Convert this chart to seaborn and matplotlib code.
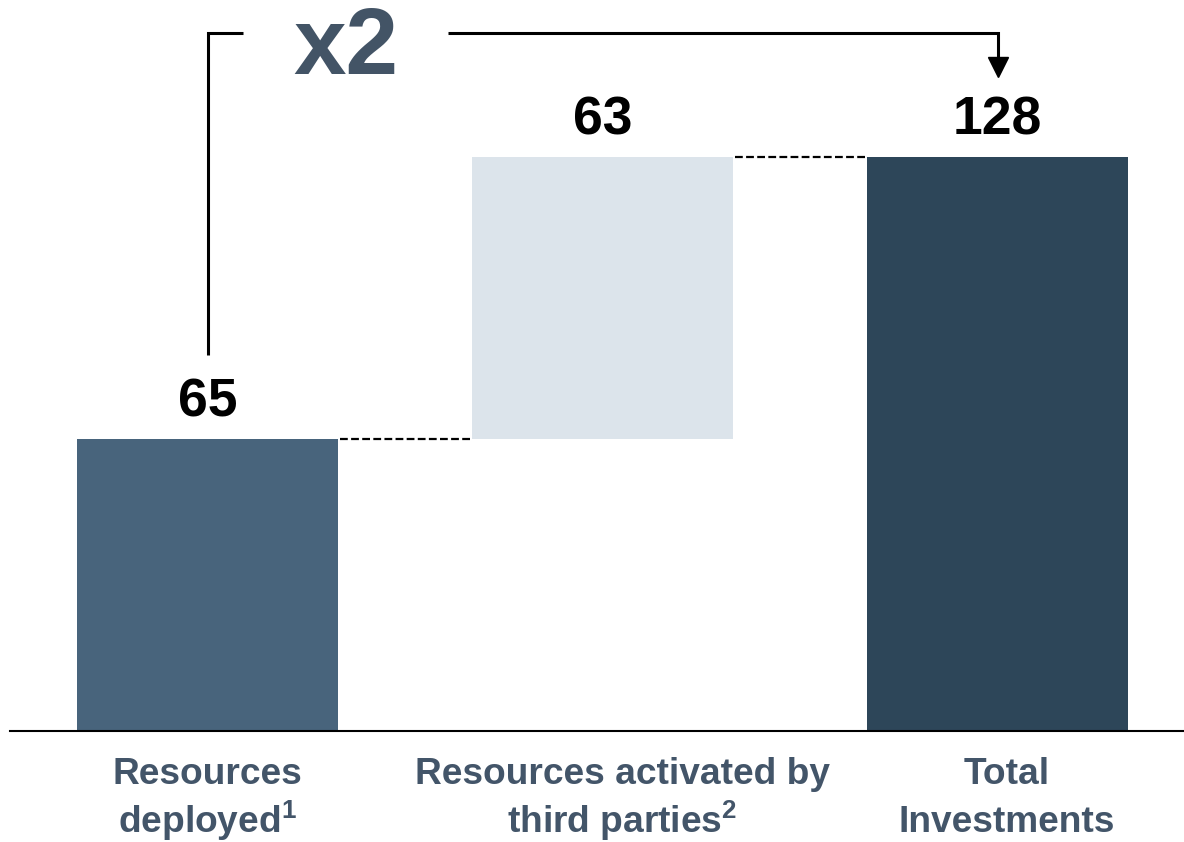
import matplotlib
matplotlib.use("Agg")
import matplotlib.pyplot as plt
import matplotlib.transforms as mtransforms
import seaborn as sns
import pandas as pd

# ---- data ----
categories = ["Resources\ndeployed$^{\\mathbf{1}}$",
              "Resources activated by\nthird parties$^{\\mathbf{2}}$",
              "Total\nInvestments"]
bar_tops = [65, 128, 128]
bar_bases = [0, 65, 0]
value_labels = ["65", "63", "128"]
bar_colors = ["#48647c", "#dce4eb", "#2d4659"]
multiplier_label = "x2"

sns.set_theme(style="white")
plt.rcParams['font.family'] = ['Liberation Sans', 'DejaVu Sans']
plt.rcParams['mathtext.fontset'] = 'custom'
plt.rcParams['mathtext.rm'] = 'Liberation Sans:bold'
plt.rcParams['mathtext.bf'] = 'Liberation Sans:bold'
plt.rcParams['mathtext.it'] = 'Liberation Sans:bold'

fig = plt.figure(figsize=(11.84, 8.42), dpi=100)
fig.patch.set_facecolor("white")
ax = fig.add_axes([10/1184, 111/842, 1174/1184, 731/842])

df = pd.DataFrame({"cat": categories, "top": bar_tops, "base": bar_bases})
sns.barplot(data=df, x="cat", y="top", hue="cat", palette=bar_colors,
            width=0.66, ax=ax, legend=False, saturation=1, linewidth=0)
sns.barplot(data=df, x="cat", y="base", color="white",
            width=0.68, ax=ax, saturation=1, linewidth=0)

ax.set_xlim(-0.5, 2.472)
ax.set_ylim(0, 163)

# connectors
half = 0.33
for i in range(len(bar_tops) - 1):
    y = bar_tops[i]
    ax.plot([i + half + 0.005, i + 1 - half - 0.005], [y, y], color="black",
            lw=1.6, dashes=(3.5, 1.5), zorder=3)

# value labels
for i, lab in enumerate(value_labels):
    ax.annotate(lab, xy=(i, bar_tops[i]), xytext=(0, 16.5), textcoords="offset points",
                ha="center", va="baseline", fontsize=38.5, fontweight="bold", color="black")

# bracket
ytop = 155.7
ax.plot([0.09, 0, 0], [ytop, ytop, 83.9], color="black", lw=2.2,
        solid_joinstyle="miter", solid_capstyle="butt", zorder=4)
ax.plot([0.609, 2, 2], [ytop, ytop, 149], color="black", lw=2.2,
        solid_joinstyle="miter", solid_capstyle="butt", zorder=4)
ax.plot([2], [148.0], marker="v", markersize=15, color="black", zorder=4)
ax.text(0.351, 146.5, multiplier_label, ha="center", va="baseline",
        fontsize=68, fontweight="bold", color="#435466")

# axes styling
ax.set_xlabel("")
ax.set_ylabel("")
ax.set_yticks([])
ax.set_xticks(range(len(categories)))
ax.set_xticklabels(categories, fontsize=26.7, fontweight="bold", color="#435569")
ax.tick_params(axis="x", length=0, pad=18.5)
label_shift_px = [0, 20, 9]
label_linespacing = [1.22, 1.22, 1.51]
for lab, dx, ls in zip(ax.get_xticklabels(), label_shift_px, label_linespacing):
    lab.set_linespacing(ls)
    lab.set_transform(lab.get_transform() +
                      mtransforms.ScaledTranslation(dx / 100, 0, fig.dpi_scale_trans))
for s in ["top", "right", "left"]:
    ax.spines[s].set_visible(False)
ax.spines["bottom"].set_color("black")
ax.spines["bottom"].set_linewidth(1.5)
ax.set_facecolor("white")

fig.savefig("out.png", dpi=100, facecolor="white")
